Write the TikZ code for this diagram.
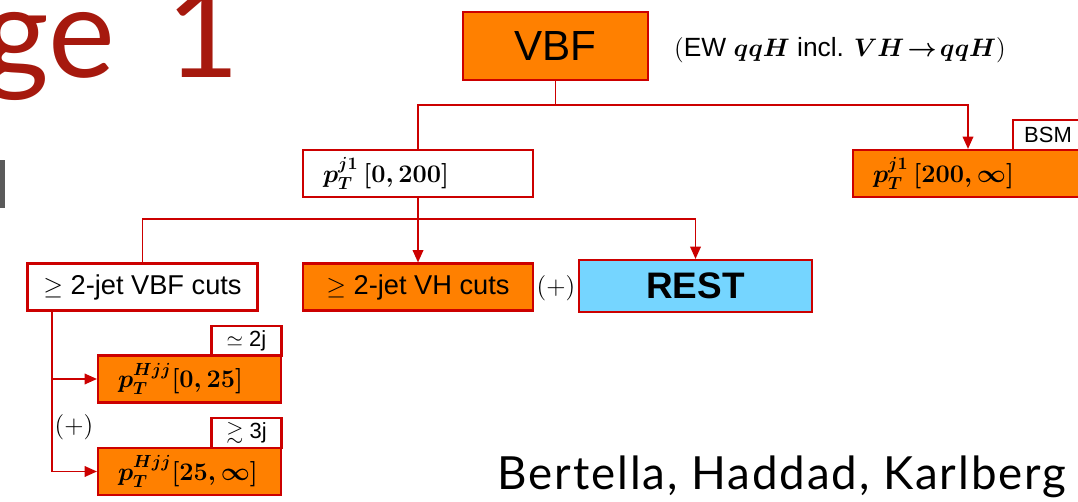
\documentclass[tikz,border=0pt]{standalone}
\usepackage{amsmath,amssymb}
\usepackage{fontspec}
\setsansfont{Liberation Sans}
\newfontfamily\slidefont{Lato}
\newfontfamily\creditfont[LetterSpace=4.2]{Lato}
\usetikzlibrary{arrows.meta}
\definecolor{boxred}{RGB}{204,0,0}
\definecolor{vbforange}{RGB}{255,128,0}
\definecolor{restblue}{RGB}{117,213,255}
\definecolor{titlered}{RGB}{166,25,14}
\definecolor{slidegray}{RGB}{90,90,90}

\begin{document}
\begin{tikzpicture}[x=0.02cm, y=-0.02cm,
    box/.style={draw=boxred, line width=1.2pt, minimum height=0.94cm, inner sep=0pt},
    cut/.style={box, fill=white, minimum width=4.6cm, font=\sffamily\fontsize{15.5}{18}\selectfont},
    bin/.style={box, fill=vbforange, text width=3.8cm, inner xsep=0.4cm, align=left, font=\fontsize{14.5}{17}\selectfont\boldmath},
    tag/.style={box, fill=white, minimum width=1.4cm, minimum height=0.6cm, font=\sffamily\fontsize{12.5}{14}\selectfont},
    line/.style={draw=boxred, line width=1pt},
    arr/.style={line, -{Triangle[length=7pt,width=6pt]}}
  ]
    \useasboundingbox (0,0) rectangle (1078,502);

    % slide background pieces
    \node[anchor=base west, inner sep=0pt, text=titlered, font=\slidefont\fontsize{72}{80}\selectfont] (title) at (-17,78) {ge\hspace{11pt} 1};
    \fill[slidegray] (0,160) rectangle (5,208);
    \node[anchor=base west, inner sep=0pt, font=\creditfont\fontsize{26}{30}\selectfont] (credit) at (497,490) {Bertella, Haddad, Karlberg};

    % top level
    \node[box, fill=vbforange, minimum width=3.7cm, minimum height=1.36cm, font=\sffamily\fontsize{24}{28}\selectfont] (vbf) at (555.5,46) {VBF};
    \node[anchor=west, font=\sffamily\fontsize{15}{18}\selectfont] (note) at (668,50) {$($EW {\boldmath$qqH$} incl. {\boldmath$VH\!\to\!qqH$}$)$};

    % leading jet pT
    \node[bin, fill=white] (low) at (418,173.5) {$p_T^{j1}\,[0,200]$};
    \node[tag] (bsm) at (1048,135) {BSM};
    \node[bin] (high) at (968,173.5) {$p_T^{j1}\,[200,\infty]$};

    % jet categories
    \node[cut] (vbfcuts) at (142.5,287) {$\geq$ 2-jet VBF cuts};
    \node[cut, fill=vbforange] (vhcuts) at (418,287) {$\geq$ 2-jet VH cuts};
    \node[font=\fontsize{15}{18}\selectfont] (plus1) at (556,288) {$(+)$};
    \node[box, fill=restblue, minimum width=4.66cm, minimum height=1.04cm, font=\sffamily\bfseries\fontsize{21}{25}\selectfont] (rest) at (695.5,286) {REST};

    % Hjj bins
    \node[tag] (twoj) at (246.5,341) {$\simeq$ 2j};
    \node[bin, text width=2.86cm] (hjjlow) at (189.5,379) {$p_T^{Hjj}[0,25]$};
    \node[font=\fontsize{15}{18}\selectfont] (plus2) at (74,427) {$(+)$};
    \node[tag] (threej) at (246.5,433) {$\gtrsim$ 3j};
    \node[bin, text width=2.86cm] (hjjhigh) at (189.5,471.5) {$p_T^{Hjj}[25,\infty]$};

    \coordinate (split1) at (555.5,105);
    \coordinate (split2) at (418,219);
    \coordinate (trunk) at (52,311);

    \draw[line] (vbf) -- (split1);
    \draw[line] (split1) -| (low);
    \draw[arr] (split1) -| (high);
    \draw[arr] (low) -- (vhcuts);
    \draw[line] (split2) -| (vbfcuts);
    \draw[arr] (split2) -| (rest);
    \draw[arr] (trunk) |- (hjjlow);
    \draw[arr] (trunk) |- (hjjhigh);
  \end{tikzpicture}
\end{document}
